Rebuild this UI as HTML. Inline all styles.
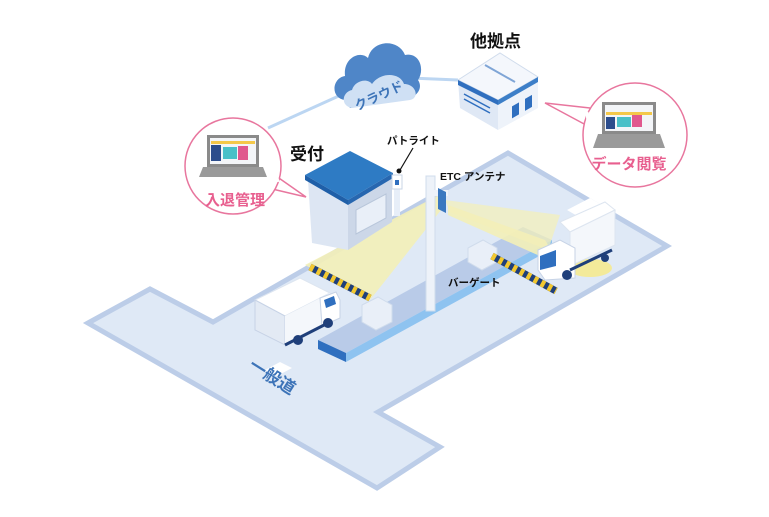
<!DOCTYPE html>
<html><head><meta charset="utf-8"><style>
html,body{margin:0;padding:0;background:#fff;width:769px;height:517px;overflow:hidden}
svg{display:block}
text{font-family:"Liberation Sans","Noto Sans CJK JP",sans-serif}
</style></head><body>
<svg width="769" height="517" viewBox="0 0 769 517">
<!-- ground -->
<polygon points="88,323 150,289 213,322 508,153 667,246 378,412 440,447 377,488" fill="#dfe9f6" stroke="#bccde8" stroke-width="5" stroke-linejoin="miter"/>
<!-- white road marks -->
<polygon points="265,370 280,362 292,368 277,376" fill="#fff"/>
<polygon points="567,210 590,198 602,205 579,217" fill="#fff"/>
<!-- island -->
<polygon points="318,340 346,353 552,240 523,227" fill="#b9cbe8"/>
<polygon points="318,340 346,353 346,362 318,349" fill="#2f6fbf"/>
<polygon points="346,353 552,240 552,249 346,362" fill="#8ec3f0"/>
<!-- beams -->
<polygon points="437,196 305,265 370,300 445,205" fill="#f3f0b8" opacity="0.9"/>
<polygon points="448,205 545,240 560,265 448,215" fill="#f3f0b8" opacity="0.9"/>
<polygon points="445,200 560,215 548,250 450,212" fill="#f3f0b8" opacity="0.7"/>
<ellipse cx="590" cy="268" rx="22" ry="9" fill="#f3ea9a"/>
<!-- cabinets -->
<polygon points="362,305 378,297 392,305 392,322 376,330 362,322" fill="#e9eff8" stroke="#d0dcec"/>
<polygon points="468,248 483,240 497,248 497,262 482,270 468,262" fill="#e9eff8" stroke="#d0dcec"/>
<!-- barriers -->
<g>
<line x1="310" y1="267" x2="370" y2="298" stroke="#1f3f7a" stroke-width="7"/>
<line x1="310" y1="267" x2="370" y2="298" stroke="#f2c830" stroke-width="7" stroke-dasharray="4 4"/>
<line x1="492" y1="256" x2="556" y2="291" stroke="#1f3f7a" stroke-width="7"/>
<line x1="492" y1="256" x2="556" y2="291" stroke="#f2c830" stroke-width="7" stroke-dasharray="4 4"/>
</g>
<!-- ETC pole -->
<rect x="426" y="176" width="9" height="135" fill="#edf2f9" stroke="#d0dcec"/>
<rect x="430" y="190" width="18" height="6" fill="#edf2f9"/>
<polygon points="438,188 446,192 446,213 438,209" fill="#3a78c0"/>
<!-- left truck -->
<g>
<polygon points="255,300 300,278 330,293 285,316" fill="#fff" stroke="#dde5f0"/>
<polygon points="255,300 285,316 285,345 255,330" fill="#e3eaf4" stroke="#c7d3e6"/>
<polygon points="285,316 330,293 330,320 285,345" fill="#f4f7fb"/>
<polygon points="320,298 336,292 340,300 340,318 322,326" fill="#fff" stroke="#c7d3e6"/>
<polygon points="324,300 334,296 336,304 326,308" fill="#2f6fbf"/>
<line x1="285" y1="345" x2="330" y2="322" stroke="#1f3f7a" stroke-width="3"/>
<circle cx="298" cy="340" r="5" fill="#1f3f7a"/>
<circle cx="328" cy="323" r="5" fill="#1f3f7a"/>
</g>
<!-- right truck -->
<g>
<polygon points="560,222 605,202 615,210 570,232" fill="#fff" stroke="#dde5f0"/>
<polygon points="570,232 615,210 615,245 570,266" fill="#f4f7fb" stroke="#dde5f0"/>
<polygon points="538,250 560,240 575,248 575,278 545,280 538,270" fill="#fff" stroke="#c7d3e6"/>
<polygon points="540,256 556,250 556,266 540,270" fill="#2f6fbf"/>
<line x1="570" y1="270" x2="612" y2="250" stroke="#1f3f7a" stroke-width="3"/>
<circle cx="567" cy="275" r="5" fill="#1f3f7a"/>
<circle cx="605" cy="258" r="4" fill="#1f3f7a"/>
</g>
<!-- booth -->
<polygon points="308,180 348,202 348,250 312,243" fill="#dde6f3"/>
<polygon points="348,202 392,178 392,222 348,250" fill="#ccd7e8"/>
<polygon points="356,210 386,194 386,218 356,234" fill="#e9eff8" stroke="#b8c6da"/>
<polygon points="305,175 350,151 393,173 348,200" fill="#2e7bc4"/>
<polygon points="305,175 348,200 348,205 305,180" fill="#1f5fa8"/>
<polygon points="348,200 393,173 393,178 348,205" fill="#2767b0"/>
<!-- patlite -->
<rect x="394" y="176" width="6" height="40" fill="#e7eef8"/>
<rect x="392" y="175" width="10" height="14" fill="#fff" stroke="#c9d5e6"/>
<rect x="395" y="180" width="4" height="5" fill="#2f6fbf"/>
<line x1="413" y1="148" x2="400" y2="170" stroke="#111" stroke-width="1.2"/>
<circle cx="399" cy="171" r="2.5" fill="#111"/>
<!-- network lines -->
<line x1="268" y1="128" x2="352" y2="90" stroke="#bcd6f2" stroke-width="3"/>
<line x1="410" y1="78" x2="458" y2="80" stroke="#bcd6f2" stroke-width="3"/>
<!-- cloud -->
<g>
<path d="M345,100 C330,98 332,78 345,76 C343,58 360,50 368,58 C372,40 398,38 405,55 C420,52 425,70 418,80 C425,90 412,102 400,98 L350,108 Z" fill="#4f86c8"/>
<path d="M352,108 C340,106 342,92 352,90 C355,80 368,78 372,84 C380,72 400,72 404,84 C416,84 420,98 410,100 Z" fill="#cfe0f4"/>
<text x="380" y="100" font-size="13" font-weight="bold" fill="#3d74b8" text-anchor="middle" transform="rotate(-25 380 98)">クラウド</text>
</g>
<!-- other site building -->
<polygon points="458,80 498,100 498,130 460,108" fill="#dfe8f5"/>
<polygon points="498,100 538,77 538,108 498,130" fill="#eef3fa"/>
<polygon points="458,80 500,53 538,77 498,100" fill="#f4f7fc" stroke="#d0dcec"/>
<polygon points="458,80 498,100 498,105 458,85" fill="#2f6fbf"/>
<polygon points="498,100 538,77 538,82 498,105" fill="#3d7fc8"/>
<line x1="485" y1="65" x2="515" y2="82" stroke="#7fa5d6" stroke-width="2"/>
<rect x="512" y="106" width="7" height="12" fill="#2f6fbf" transform="skewY(-30) translate(0,296)"/>
<rect x="525" y="99" width="7" height="12" fill="#2f6fbf" transform="skewY(-30) translate(0,303)"/>
<line x1="464" y1="94" x2="490" y2="108" stroke="#2f6fbf" stroke-width="1.5"/>
<line x1="464" y1="99" x2="490" y2="113" stroke="#2f6fbf" stroke-width="1.5"/>
<!-- left bubble -->
<path d="M268,188 L306,197 L276,176" fill="#fff" stroke="#e8769e" stroke-width="1.5"/>
<circle cx="233" cy="166" r="48" fill="#fff" stroke="#e8769e" stroke-width="1.5"/>
<path d="M275,170 L278,182" stroke="#fff" stroke-width="3"/>
<rect x="207" y="135" width="52" height="32" fill="#8a8a8a"/>
<rect x="210" y="138" width="46" height="26" fill="#f3f5f8"/>
<rect x="211" y="145" width="10" height="16" fill="#2c4d8c"/>
<rect x="223" y="147" width="14" height="12" fill="#49c0c8"/>
<rect x="238" y="146" width="10" height="14" fill="#e0588e"/>
<rect x="211" y="141" width="44" height="3" fill="#f4c84a"/>
<polygon points="203,167 263,167 267,177 199,177" fill="#9a9a9a"/>
<text x="235" y="205" font-size="15" font-weight="bold" fill="#e85f8f" text-anchor="middle">入退管理</text>
<!-- right bubble -->
<path d="M590,108 L545,103 L586,125" fill="#fff" stroke="#e8769e" stroke-width="1.5"/>
<circle cx="635" cy="135" r="52" fill="#fff" stroke="#e8769e" stroke-width="1.5"/>
<path d="M587,112 L588,122" stroke="#fff" stroke-width="3"/>
<rect x="602" y="102" width="54" height="32" fill="#8a8a8a"/>
<rect x="605" y="105" width="48" height="26" fill="#f3f5f8"/>
<rect x="606" y="117" width="9" height="12" fill="#2c4d8c"/>
<rect x="617" y="117" width="14" height="10" fill="#49c0c8"/>
<rect x="632" y="115" width="10" height="12" fill="#e0588e"/>
<rect x="606" y="112" width="46" height="3" fill="#f4c84a"/>
<polygon points="598,134 660,134 665,148 593,148" fill="#9a9a9a"/>
<text x="629" y="169" font-size="15" font-weight="bold" fill="#e85f8f" text-anchor="middle">データ閲覧</text>
<!-- labels -->
<text x="470" y="47" font-size="17" font-weight="bold" fill="#111">他拠点</text>
<text x="290" y="160" font-size="17" font-weight="bold" fill="#111">受付</text>
<text x="387" y="144" font-size="10.5" font-weight="bold" fill="#111">パトライト</text>
<text x="440" y="180" font-size="10.5" font-weight="bold" fill="#111">ETC アンテナ</text>
<text x="448" y="286" font-size="10.5" font-weight="bold" fill="#111">バーゲート</text>
<text x="238" y="378" font-size="17" font-weight="bold" fill="#3d74b8" transform="rotate(32 260 390)">一般道</text>
</svg>
</body></html>
